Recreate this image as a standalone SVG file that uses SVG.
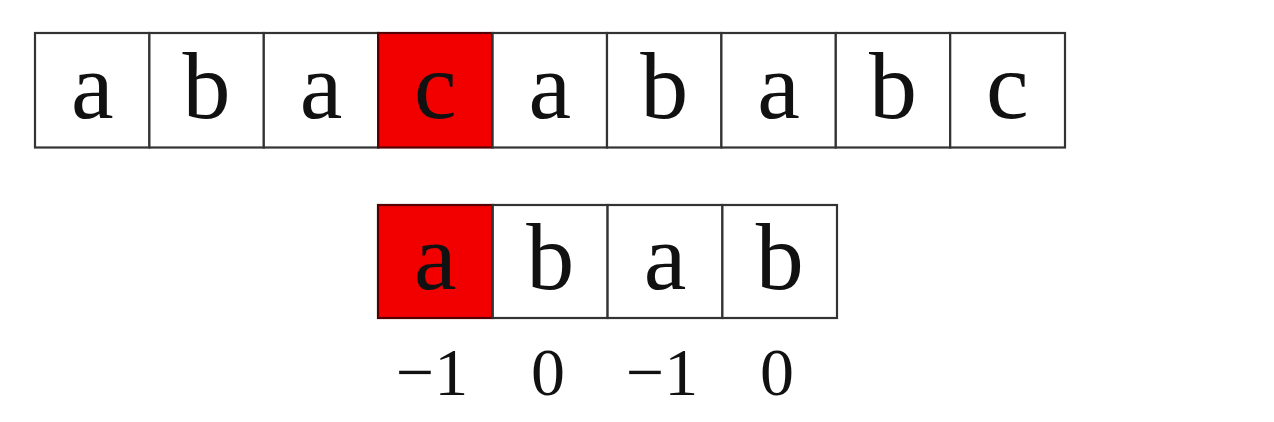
<svg xmlns="http://www.w3.org/2000/svg" width="1274" height="422" viewBox="0 0 1274 422">
<style>
.cell{fill:#fff;stroke:#333;stroke-width:2.2}
.hi{fill:#f20000;stroke:#550000;stroke-width:2.2}
.ch{font-family:"Liberation Serif","DejaVu Serif",serif;font-size:96px;fill:#111;text-anchor:middle}
.num{font-family:"Liberation Serif","DejaVu Serif",serif;font-size:68px;fill:#111;text-anchor:middle}
</style>
<rect width="1274" height="422" fill="#fff"/>
<g id="text-row">
<g id="t0"><rect class="cell" x="35" y="33" width="114.4" height="114.5"/><text class="ch" x="92.2" y="118">a</text></g>
<g id="t1"><rect class="cell" x="149.4" y="33" width="114.4" height="114.5"/><text class="ch" x="206.6" y="118">b</text></g>
<g id="t2"><rect class="cell" x="263.8" y="33" width="114.4" height="114.5"/><text class="ch" x="321" y="118">a</text></g>
<g id="t3"><rect class="hi" x="378.2" y="33" width="114.4" height="114.5"/><text class="ch" x="435.4" y="118">c</text></g>
<g id="t4"><rect class="cell" x="492.6" y="33" width="114.4" height="114.5"/><text class="ch" x="549.8" y="118">a</text></g>
<g id="t5"><rect class="cell" x="607" y="33" width="114.4" height="114.5"/><text class="ch" x="664.2" y="118">b</text></g>
<g id="t6"><rect class="cell" x="721.4" y="33" width="114.4" height="114.5"/><text class="ch" x="778.6" y="118">a</text></g>
<g id="t7"><rect class="cell" x="835.8" y="33" width="114.4" height="114.5"/><text class="ch" x="893" y="118">b</text></g>
<g id="t8"><rect class="cell" x="950.2" y="33" width="114.8" height="114.5"/><text class="ch" x="1007.4" y="118">c</text></g>
</g>
<g id="pattern-row">
<g id="p0"><rect class="hi" x="378" y="205" width="114.8" height="113"/><text class="ch" x="435.4" y="289">a</text><text class="num" x="432" y="395">−1</text></g>
<g id="p1"><rect class="cell" x="492.8" y="205" width="114.8" height="113"/><text class="ch" x="550.2" y="289">b</text><text class="num" x="548" y="395">0</text></g>
<g id="p2"><rect class="cell" x="607.6" y="205" width="114.8" height="113"/><text class="ch" x="665" y="289">a</text><text class="num" x="662" y="395">−1</text></g>
<g id="p3"><rect class="cell" x="722.4" y="205" width="114.6" height="113"/><text class="ch" x="779.7" y="289">b</text><text class="num" x="777" y="395">0</text></g>
</g>
<g id="connectors"/>
</svg>
